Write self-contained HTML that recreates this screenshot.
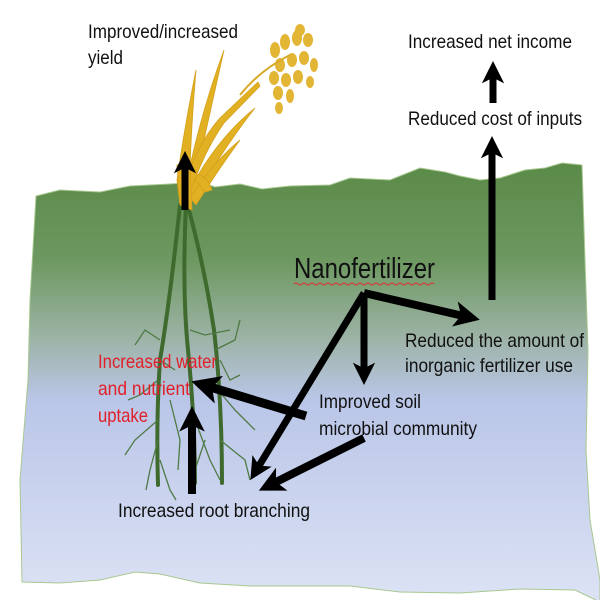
<!DOCTYPE html>
<html><head><meta charset="utf-8"><style>
html,body{margin:0;padding:0;background:#fff;width:600px;height:600px;overflow:hidden}
svg text{font-family:"Liberation Sans Narrow","Liberation Sans",sans-serif;}
</style></head><body>
<svg width="600" height="600" viewBox="0 0 600 600" xmlns="http://www.w3.org/2000/svg">
<defs>
<linearGradient id="soil" x1="0" y1="0" x2="0" y2="1">
<stop offset="0" stop-color="#5a8a48"/>
<stop offset="0.22" stop-color="#6d9860"/>
<stop offset="0.4" stop-color="#9db3a6"/>
<stop offset="0.54" stop-color="#bac6e8"/>
<stop offset="1" stop-color="#dde3f5"/>
</linearGradient>
<marker id="ah" markerWidth="3.2" markerHeight="3.2" refX="2.2" refY="1.6" orient="auto" markerUnits="strokeWidth">
<path d="M0,0 L3.2,1.6 L0,3.2 L0.8,1.6 Z" fill="#000"/>
</marker>
</defs>
<path d="M36,196 L60,190 L100,192 L130,186 L170,184 L200,182 L215,187 L240,184 L262,189 L290,186 L330,185 L350,178 L390,180 L420,168 L445,172 L460,176 L480,180 L500,178 L525,170 L545,168 L562,163 L582,165 L585,260 L588,350 L586,450 L590,520 L600,580 L600,602 L575,590 L520,589 L460,593 L400,592 L350,586 L300,586 L250,586 L200,583 L160,574 L135,572 L100,580 L60,583 L22,582 L20,480 L28,380 L30,300 Z" fill="url(#soil)" stroke="#a8c890" stroke-width="1"/>
<g fill="none" stroke="#3e6a2e" stroke-width="4" stroke-linecap="round">
<path d="M180,205 Q170,300 160,360 Q156,420 158,485"/>
<path d="M186,205 Q182,290 188,350 Q195,420 195,483"/>
<path d="M189,210 Q205,270 214,330 Q222,400 222,483"/>
</g>
<g fill="none" stroke="#4e7a44" stroke-width="1.3">
<path d="M160,340 L145,330 L135,345"/><path d="M158,380 L140,395 L128,400"/><path d="M158,420 L135,440 L125,455"/>
<path d="M158,440 L150,470 L146,490"/><path d="M160,460 L170,490 L176,500"/><path d="M170,400 L180,440 L178,470"/>
<path d="M190,330 L205,335 L230,330"/><path d="M195,420 L210,460 L220,480"/><path d="M215,350 L235,340 L240,320"/>
<path d="M218,390 L235,410 L255,430"/><path d="M220,440 L245,460 L250,480"/><path d="M205,440 L195,470"/>
<path d="M220,360 L230,380 L240,375"/><path d="M160,360 L175,370"/>
</g>
<g fill="#e2b023" stroke="#d4a01c" stroke-width="0.8">
<path d="M180,205 L177,180 Q184,130 196,70 Q190,140 189,205 Z"/>
<path d="M183,200 Q198,120 224,50 Q206,130 191,200 Z"/>
<path d="M187,195 Q215,140 255,108 Q222,150 194,200 Z"/>
<path d="M190,198 Q215,160 240,140 Q218,170 196,205 Z"/>
<path d="M192,175 Q206,172 212,190 L205,192 Z"/>
<path d="M186,180 Q200,140 220,118 L258,82 L260,86 L224,123 Q205,150 191,190 Z"/>
<path d="M180,205 L177,165 L190,165 L192,210 Z"/>
</g>
<g fill="#e3b535">
<ellipse cx="275" cy="50" rx="5" ry="8"/><ellipse cx="285" cy="42" rx="5" ry="8"/><ellipse cx="297" cy="38" rx="5" ry="8"/><ellipse cx="308" cy="40" rx="5" ry="7"/>
<ellipse cx="280" cy="65" rx="5" ry="7"/><ellipse cx="292" cy="60" rx="5" ry="7"/><ellipse cx="304" cy="58" rx="5" ry="7"/><ellipse cx="314" cy="65" rx="4" ry="7"/>
<ellipse cx="274" cy="78" rx="5" ry="7"/><ellipse cx="286" cy="80" rx="5" ry="7"/><ellipse cx="298" cy="77" rx="5" ry="7"/><ellipse cx="310" cy="82" rx="4" ry="6"/>
<ellipse cx="278" cy="93" rx="5" ry="7"/><ellipse cx="290" cy="96" rx="4" ry="7"/><ellipse cx="279" cy="108" rx="4" ry="6"/><ellipse cx="300" cy="30" rx="5" ry="6"/>
</g>
<path d="M240,95 Q260,70 290,55" stroke="#d8a828" stroke-width="2" fill="none"/>
<g stroke="#000" fill="none" marker-end="url(#ah)">
<line x1="185" y1="210" x2="185" y2="158" stroke-width="7"/>
<line x1="492" y1="300" x2="492" y2="143" stroke-width="7"/>
<line x1="493" y1="103" x2="493" y2="68" stroke-width="7"/>
<line x1="364" y1="293" x2="472" y2="318" stroke-width="8"/>
<line x1="364" y1="293" x2="364" y2="378" stroke-width="7"/>
<line x1="364" y1="293" x2="254" y2="474" stroke-width="7"/>
<line x1="306" y1="416" x2="200" y2="384" stroke-width="9"/>
<line x1="364" y1="438" x2="266" y2="487" stroke-width="8"/>
<line x1="192" y1="494" x2="192" y2="414" stroke-width="8"/>
</g>
<g font-size="19.5" fill="#111">
<text x="88" y="38" textLength="150" lengthAdjust="spacingAndGlyphs">Improved/increased</text>
<text x="88" y="64" textLength="35" lengthAdjust="spacingAndGlyphs">yield</text>
<text x="408" y="48" textLength="164" lengthAdjust="spacingAndGlyphs">Increased net income</text>
<text x="408" y="125" textLength="174" lengthAdjust="spacingAndGlyphs">Reduced cost of inputs</text>
<text x="405" y="347" textLength="179" lengthAdjust="spacingAndGlyphs">Reduced the amount of</text>
<text x="405" y="372" textLength="168" lengthAdjust="spacingAndGlyphs">inorganic fertilizer use</text>
<text x="319" y="408" textLength="102" lengthAdjust="spacingAndGlyphs">Improved soil</text>
<text x="319" y="435" textLength="158" lengthAdjust="spacingAndGlyphs">microbial community</text>
<text x="118" y="517" textLength="192" lengthAdjust="spacingAndGlyphs">Increased root branching</text>
</g>
<g font-size="19.5" fill="#e0202a">
<text x="98" y="368" textLength="119" lengthAdjust="spacingAndGlyphs">Increased water</text>
<text x="98" y="395" textLength="92" lengthAdjust="spacingAndGlyphs">and nutrient</text>
<text x="98" y="422" textLength="50" lengthAdjust="spacingAndGlyphs">uptake</text>
</g>
<text x="294" y="278" font-size="29" fill="#111" textLength="141" lengthAdjust="spacingAndGlyphs">Nanofertilizer</text>
<path d="M294,284 q2,-2 4,0 t4,0 t4,0 t4,0 t4,0 t4,0 t4,0 t4,0 t4,0 t4,0 t4,0 t4,0 t4,0 t4,0 t4,0 t4,0 t4,0 t4,0 t4,0 t4,0 t4,0 t4,0 t4,0 t4,0 t4,0 t4,0 t4,0 t4,0 t4,0 t4,0 t4,0 t4,0 t4,0 t4,0 t4,0" stroke="#e03030" stroke-width="1" fill="none"/>
</svg>
</body></html>
